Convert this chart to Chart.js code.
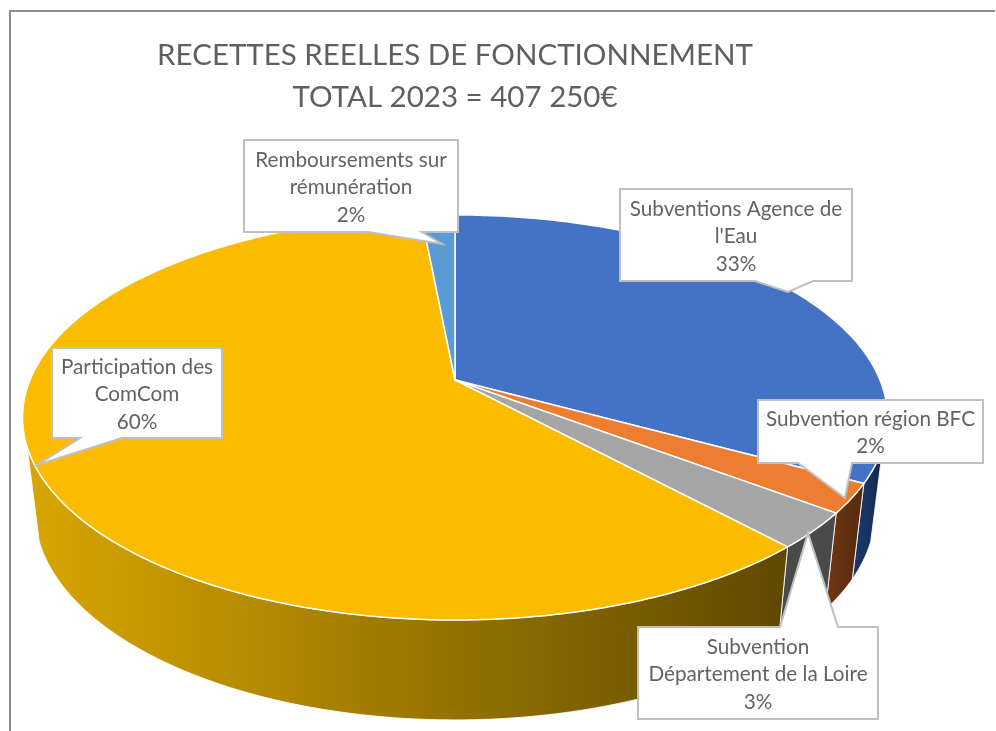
<!DOCTYPE html>
<html lang="fr">
<head>
<meta charset="UTF-8">
<title>Recettes reelles de fonctionnement</title>
<script src="https://cdn.jsdelivr.net/npm/chart.js"></script>
<style>
    html, body { margin: 0; padding: 0; background: #fff; }
    #wrap { position: relative; width: 996px; height: 731px; overflow: hidden; }
    #frame { position: absolute; left: 9px; top: 10px; width: 984px; height: 730px; border-left: 2px solid #8c8c8c; border-top: 2px solid #8c8c8c; }
    canvas { position: absolute; left: 0; top: 0; }
</style>
</head>
<body>
<div id="wrap">
    <div id="frame"></div>
    <canvas id="pie" width="996" height="731"></canvas>
</div>
<script>
const titleLines = ['RECETTES REELLES DE FONCTIONNEMENT', 'TOTAL 2023 = 407 250€'];
const categories = [
    ["Subventions Agence de", "l'Eau"],
    ["Subvention région BFC"],
    ["Subvention", "Département de la Loire"],
    ["Participation des", "ComCom"],
    ["Remboursements sur", "rémunération"]
];
const shares = [33, 2.33, 2.86, 60.31, 1.5];

const topColors = ['#4472C4', '#ED7D31', '#A5A5A5', '#FBBC00', '#5B9BD5'];
const wallColors = [
    ['#1b3a6e', '#132a52'],
    ['#6e3814', '#57290f'],
    ['#4a4a4a', '#4a4a4a'],
    ['#d8a600', '#5f4900'],
    ['#3d6a95', '#3d6a95']
];

// callout boxes: rectangle, pointer base on one edge, pointer tip
const callouts = [
    { x0: 620, y0: 189, x1: 852, y1: 281, base: [755, 813], tip: [788, 292] },
    { x0: 758, y0: 400, x1: 983, y1: 463, base: [798, 852], tip: [845, 498] },
    { x0: 638, y0: 627, x1: 878, y1: 719, base: [780, 838], tip: [808, 533], up: true },
    { x0: 52, y0: 348, x1: 222, y1: 438, base: [80, 122], tip: [37, 465] },
    { x0: 244, y0: 140, x1: 458, y1: 232, base: [368, 422], tip: [442, 244] }
];

// perspective of the disc: top rim and bottom rim of the cylinder
const topRim = { cx: 455, cy: 380, a: 425, b: 195.6, k: 0.185 };
const bottomRim = { cx: 455, cy: 472.3, a: 413, b: 201.8, k: 0.185 };
// the wall only shows between these two angles, outside them it is behind the top
const wallFrom = 18.8 * Math.PI / 180;
const wallTo = 161.2 * Math.PI / 180;

function project(rim, angle) {
    const u = Math.cos(angle), v = Math.sin(angle), w = 1 - rim.k * v;
    return [rim.cx + rim.a * u / w, rim.cy + rim.b * v / w];
}

function rimPoints(rim, start, end) {
    const steps = Math.max(2, Math.ceil((end - start) / 0.01));
    const pts = [];
    for (let i = 0; i <= steps; i++) {
        pts.push(project(rim, start + (end - start) * i / steps));
    }
    return pts;
}

function tracePath(ctx, pts) {
    ctx.beginPath();
    pts.forEach((p, i) => i ? ctx.lineTo(p[0], p[1]) : ctx.moveTo(p[0], p[1]));
    ctx.closePath();
}

const pie3d = {
    id: 'pie3d',
    // the library's arcs give the angles, the drawing goes through the rims above
    beforeDatasetDraw(chart, args) {
        const ctx = chart.ctx;
        const arcs = args.meta.data;
        ctx.save();
        ctx.lineJoin = 'round';

        arcs.forEach((arc, i) => {
            const { startAngle, endAngle } = arc.getProps(['startAngle', 'endAngle'], true);
            const from = Math.max(startAngle, wallFrom), to = Math.min(endAngle, wallTo);
            if (from >= to) return;
            const top = rimPoints(topRim, from, to);
            const bottom = rimPoints(bottomRim, from, to);
            const xs = top.concat(bottom).map(p => p[0]);
            const grad = ctx.createLinearGradient(Math.min(...xs), 0, Math.max(...xs), 0);
            grad.addColorStop(0, wallColors[i][0]);
            grad.addColorStop(1, wallColors[i][1]);
            tracePath(ctx, top.concat(bottom.reverse()));
            ctx.fillStyle = grad;
            ctx.fill();
            ctx.strokeStyle = 'rgba(255,255,255,0.85)';
            ctx.lineWidth = 1;
            ctx.stroke();
        });

        arcs.forEach((arc) => {
            const { startAngle, endAngle } = arc.getProps(['startAngle', 'endAngle'], true);
            tracePath(ctx, [[topRim.cx, topRim.cy]].concat(rimPoints(topRim, startAngle, endAngle)));
            ctx.fillStyle = arc.options.backgroundColor;
            ctx.fill();
            ctx.strokeStyle = '#fff';
            ctx.lineWidth = 1.5;
            ctx.stroke();
        });

        ctx.restore();
        return false;
    },
    afterDraw(chart) {
        const ctx = chart.ctx;
        ctx.save();
        callouts.forEach((c, i) => {
            const edge = c.up ? c.y0 : c.y1;
            const pts = [[c.x0, c.y0], [c.x1, c.y0], [c.x1, c.y1], [c.x0, c.y1]];
            const pointer = [[c.base[0], edge], c.tip, [c.base[1], edge]];
            if (c.up) {
                pts.splice(1, 0, ...pointer);
            } else {
                pts.splice(3, 0, pointer[2], pointer[1], pointer[0]);
            }
            tracePath(ctx, pts);
            ctx.fillStyle = '#fff';
            ctx.fill();
            ctx.strokeStyle = '#bfbfbf';
            ctx.lineWidth = 2;
            ctx.stroke();

            const lines = categories[i].concat(Math.round(shares[i]) + '%');
            const midX = (c.x0 + c.x1) / 2, midY = (c.y0 + c.y1) / 2 + 1.5;
            ctx.fillStyle = '#636363';
            ctx.font = '20.7px Lato';
            ctx.textAlign = 'center';
            ctx.textBaseline = 'middle';
            lines.forEach((line, n) => {
                ctx.fillText(line, midX, midY + (n - (lines.length - 1) / 2) * 27.5);
            });
        });
        ctx.restore();
    }
};

new Chart(document.getElementById('pie'), {
    type: 'pie',
    data: {
        labels: categories.map(c => c.join(' ')),
        datasets: [{ data: shares, backgroundColor: topColors }]
    },
    options: {
        responsive: false,
        animation: false,
        layout: { padding: { right: 86 } },
        plugins: {
            legend: { display: false },
            tooltip: { enabled: false },
            title: {
                display: true,
                text: titleLines,
                color: '#5f5f5f',
                font: { family: 'Lato', size: 29.5, weight: 'normal', lineHeight: 1.42 },
                padding: { top: 35, bottom: 0 }
            }
        }
    },
    plugins: [pie3d]
});
</script>
</body>
</html>
